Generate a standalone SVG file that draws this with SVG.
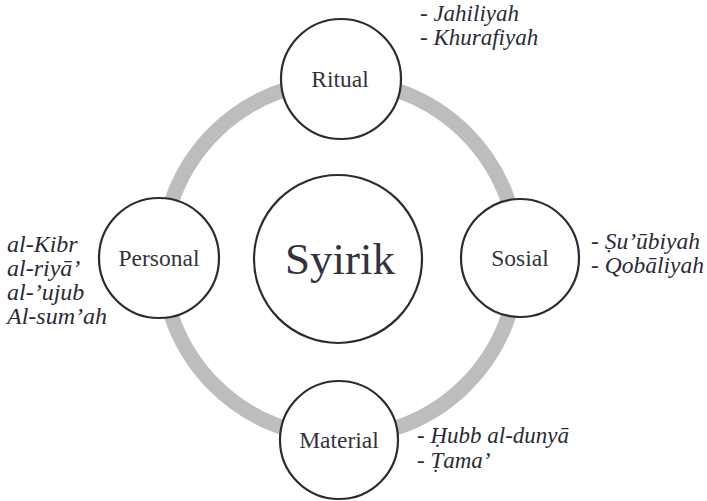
<svg xmlns="http://www.w3.org/2000/svg" width="707" height="501" viewBox="0 0 707 501">
  <style>
    .node { fill: #ffffff; stroke: #2b2b36; stroke-width: 2.2; }
    .lbl { font-family: "Liberation Serif", "Times New Roman", serif; font-size: 23.5px; fill: #33333d; text-anchor: middle; }
    .big { font-size: 45px; }
    .side { font-family: "Liberation Serif", "Times New Roman", serif; font-style: italic; font-size: 23px; fill: #2b2b36; }
    .wide { font-size: 24px; }
    .right { font-size: 23.5px; }
  </style>

  <!-- connecting ring -->
  <g id="connectors">
    <circle cx="340" cy="259" r="178" fill="none" stroke="#bdbdbd" stroke-width="15"/>
  </g>

  <g id="node-syirik">
    <circle class="node" cx="338" cy="259" r="84"/>
    <text class="lbl big" x="340" y="274">Syirik</text>
  </g>

  <g id="node-ritual">
    <circle class="node" cx="341" cy="79" r="60"/>
    <text class="lbl" x="340" y="87">Ritual</text>
    <text class="side" x="420" y="21">- Jahiliyah</text>
    <text class="side" x="420" y="45">- Khurafiyah</text>
  </g>

  <g id="node-personal">
    <circle class="node" cx="159" cy="258" r="60"/>
    <text class="lbl" x="159" y="266">Personal</text>
    <text class="side wide" x="7" y="252">al-Kibr</text>
    <text class="side wide" x="7" y="276">al-riyā’</text>
    <text class="side wide" x="7" y="300">al-’ujub</text>
    <text class="side wide" x="7" y="324">Al-sum’ah</text>
  </g>

  <g id="node-sosial">
    <circle class="node" cx="520" cy="258" r="59"/>
    <text class="lbl" x="520" y="266">Sosial</text>
    <text class="side right" x="591" y="249">- Ṣu’ūbiyah</text>
    <text class="side right" x="591" y="273">- Qobāliyah</text>
  </g>

  <g id="node-material">
    <circle class="node" cx="339" cy="440" r="59"/>
    <text class="lbl" x="339" y="448">Material</text>
    <text class="side" x="417" y="443">- Ḥubb al-dunyā</text>
    <text class="side" x="417" y="468">- Ṭama’</text>
  </g>
</svg>
